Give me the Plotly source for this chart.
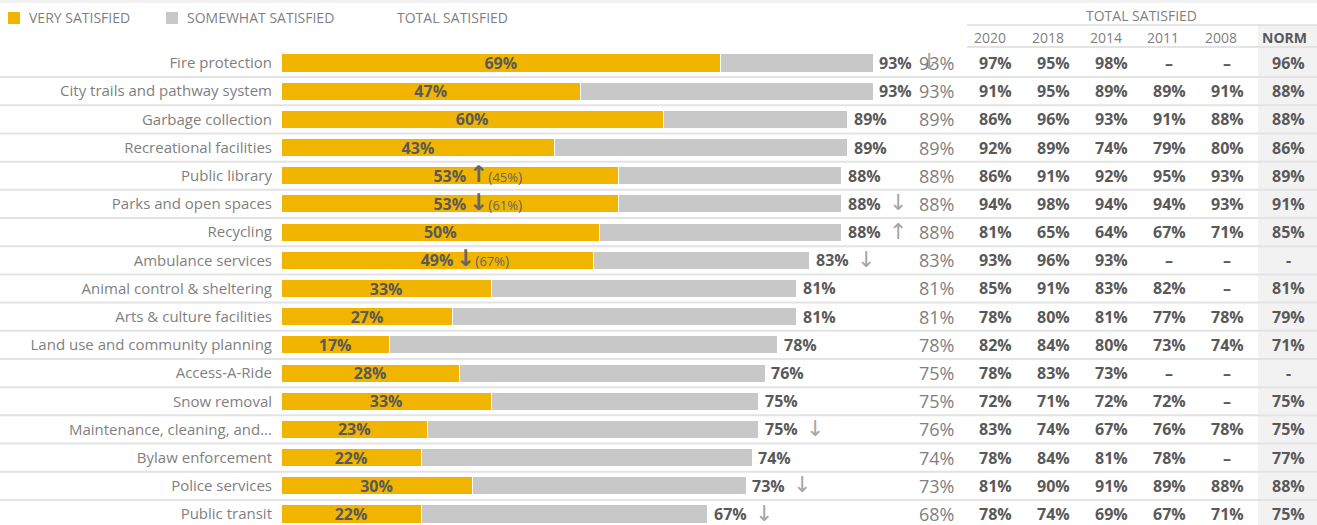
import plotly.graph_objects as go

# survey data
services = [
    "Fire protection", "City trails and pathway system", "Garbage collection",
    "Recreational facilities", "Public library", "Parks and open spaces", "Recycling",
    "Ambulance services", "Animal control & sheltering", "Arts & culture facilities",
    "Land use and community planning", "Access-A-Ride", "Snow removal",
    "Maintenance, cleaning, and...", "Bylaw enforcement", "Police services", "Public transit",
]
very_satisfied = [69, 47, 60, 43, 53, 53, 50, 49, 33, 27, 17, 28, 33, 23, 22, 30, 22]
somewhat_satisfied = [24, 46, 29, 46, 35, 35, 38, 34, 48, 54, 61, 48, 42, 52, 52, 43, 45]
total_bar = [93, 93, 89, 89, 88, 88, 88, 83, 81, 81, 78, 76, 75, 75, 74, 73, 67]
total_col = [93, 93, 89, 89, 88, 88, 88, 83, 81, 81, 78, 75, 75, 76, 74, 73, 68]
total_arrow = ["↓", "", "", "", "", "↓", "↑", "↓", "", "", "", "", "", "↓", "", "↓", "↓"]
very_arrow = ["", "", "", "", "↑", "↓", "", "↓", "", "", "", "", "", "", "", "", ""]
very_prev = ["", "", "", "", "(45%)", "(61%)", "", "(67%)", "", "", "", "", "", "", "", "", ""]

year_headers = ["2020", "2018", "2014", "2011", "2008", "NORM"]
y2020 = ["97%", "91%", "86%", "92%", "86%", "94%", "81%", "93%", "85%", "78%", "82%", "78%", "72%", "83%", "78%", "81%", "78%"]
y2018 = ["95%", "95%", "96%", "89%", "91%", "98%", "65%", "96%", "91%", "80%", "84%", "83%", "71%", "74%", "84%", "90%", "74%"]
y2014 = ["98%", "89%", "93%", "74%", "92%", "94%", "64%", "93%", "83%", "81%", "80%", "73%", "72%", "67%", "81%", "91%", "69%"]
y2011 = ["–", "89%", "91%", "79%", "95%", "94%", "67%", "–", "82%", "77%", "73%", "–", "72%", "76%", "78%", "89%", "67%"]
y2008 = ["–", "91%", "88%", "80%", "93%", "93%", "71%", "–", "–", "78%", "74%", "–", "–", "78%", "–", "88%", "71%"]
norm = ["96%", "88%", "88%", "86%", "89%", "91%", "85%", "-", "81%", "79%", "71%", "-", "75%", "75%", "77%", "88%", "75%"]

W, H = 1317, 525
FONT = "Open Sans"
DARK = "#595959"
MID = "#7f7f7f"
YELLOW = "#F1B500"
GREY = "#C8C8C8"

fig = go.Figure()
fig.add_trace(go.Bar(
    y=services, x=very_satisfied, orientation="h", name="VERY SATISFIED",
    marker=dict(color=YELLOW, line=dict(color="white", width=1)),
    text=[f"{v}%" for v in very_satisfied], textposition="inside",
    insidetextanchor="middle", constraintext="none",
    insidetextfont=dict(family=FONT, size=16, color=DARK, weight="bold"),
    width=0.64,
))
fig.add_trace(go.Bar(
    y=services, x=somewhat_satisfied, orientation="h", name="SOMEWHAT SATISFIED",
    marker=dict(color=GREY, line=dict(color="white", width=1)),
    width=0.64,
))

ann = []
px = lambda p: p / W
py = lambda p: 1 - p / H

for i, s in enumerate(services):
    # total label at end of bar
    ann.append(dict(x=total_bar[i], y=s, xref="x", yref="y", text=f"<b>{total_bar[i]}%</b>",
                    xanchor="left", xshift=4, showarrow=False,
                    font=dict(family=FONT, size=16, color=DARK)))
    if total_arrow[i]:
        ann.append(dict(x=total_bar[i], y=s, xref="x", yref="y", text=total_arrow[i],
                        xanchor="center", xshift=56, yshift=1, showarrow=False,
                        font=dict(family="DejaVu Sans", size=22, color="#a6a6a6")))
    if very_prev[i]:
        # change vs. previous wave, next to the very-satisfied label
        note = (f"<span style='font-family:DejaVu Sans;font-size:23px;font-weight:bold'>"
                f"{very_arrow[i]}</span><span style='font-size:14px'>(</span>"
                f"{very_prev[i][1:-1]}<span style='font-size:14px'>)</span>")
        ann.append(dict(x=very_satisfied[i] / 2, y=s, xref="x", yref="y",
                        text=note, xanchor="left", xshift=17, yshift=2, showarrow=False,
                        font=dict(family=FONT, size=13, color="#666666")))
    # total satisfied column
    ann.append(dict(x=px(956), y=s, xref="paper", yref="y", text=f"{total_col[i]}%",
                    xanchor="right", showarrow=False,
                    font=dict(family=FONT, size=18, color=MID)))
    for col, cx in zip([y2020, y2018, y2014, y2011, y2008, norm],
                       [995, 1053, 1111, 1169, 1227, 1288]):
        ann.append(dict(x=px(cx), y=s, xref="paper", yref="y", text=f"<b>{col[i]}</b>",
                        xanchor="center", showarrow=False,
                        font=dict(family=FONT, size=16, color=DARK)))

for h, cx in zip(year_headers, [990, 1048, 1106, 1163, 1221, 1284]):
    txt = f"<b>{h}</b>" if h == "NORM" else h
    ann.append(dict(x=px(cx), y=py(37), xref="paper", yref="paper", text=txt,
                    xanchor="center", yanchor="middle", showarrow=False,
                    font=dict(family=FONT, size=14, color=DARK if h == "NORM" else MID)))
ann.append(dict(x=px(1141), y=py(15), xref="paper", yref="paper", text="TOTAL SATISFIED",
                xanchor="center", yanchor="middle", showarrow=False,
                font=dict(family=FONT, size=14, color=MID)))

# legend
for label, sx, col in [("VERY SATISFIED", 8, YELLOW), ("SOMEWHAT SATISFIED", 166, GREY),
                       ("TOTAL SATISFIED", 395, None)]:
    tx = sx + 19 if col else sx
    ann.append(dict(x=px(tx), y=py(18), xref="paper", yref="paper", text=label,
                    xanchor="left", yanchor="middle", showarrow=False,
                    font=dict(family=FONT, size=14, color=MID)))

shapes = [
    dict(type="rect", xref="paper", yref="paper", x0=0, x1=1, y0=py(3), y1=1,
         fillcolor="#f2f2f2", line_width=0, layer="below"),
    dict(type="rect", xref="paper", yref="paper", x0=px(1258), x1=1, y0=0, y1=py(25),
         fillcolor="#f2f2f2", line_width=0, layer="below"),
    dict(type="line", xref="paper", yref="paper", x0=px(967), x1=1, y0=py(25), y1=py(25),
         line=dict(color="#dcdcdc", width=1.5)),
    dict(type="line", xref="paper", yref="paper", x0=px(967), x1=1, y0=py(47), y1=py(47),
         line=dict(color="#e3e3e3", width=2)),
    dict(type="rect", xref="paper", yref="paper", x0=px(8), x1=px(20), y0=py(12), y1=py(24),
         fillcolor=YELLOW, line_width=0),
    dict(type="rect", xref="paper", yref="paper", x0=px(166), x1=px(178), y0=py(12), y1=py(24),
         fillcolor=GREY, line_width=0),
]
for i in range(len(services) - 1):
    shapes.append(dict(type="line", xref="paper", yref="y", x0=0, x1=1, y0=i + 0.5, y1=i + 0.5,
                       line=dict(color="#e3e3e3", width=2), layer="below"))

fig.update_layout(
    barmode="stack",
    width=W, height=H,
    margin=dict(l=0, r=0, t=0, b=0),
    paper_bgcolor="white", plot_bgcolor="rgba(0,0,0,0)",
    showlegend=False,
    xaxis=dict(domain=[px(281), 1], range=[0, (W - 281) / 6.37], visible=False),
    yaxis=dict(domain=[0, (H - 48.9) / H], range=[16.39, -0.5],
               categoryorder="array", categoryarray=services,
               showgrid=False, zeroline=False, showline=False, ticks="",
               ticklabelstandoff=8,
               tickfont=dict(family=FONT, size=15, color=MID)),
    annotations=ann,
    shapes=shapes,
)

fig.write_html("out.html", config={"displayModeBar": False},
               post_script="document.body.style.margin='0';")
